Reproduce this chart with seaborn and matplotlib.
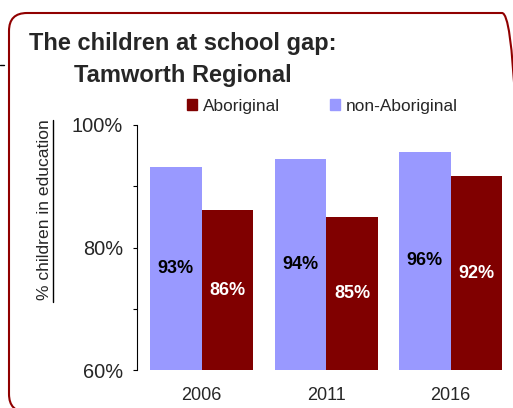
import matplotlib
matplotlib.use('Agg')
import matplotlib.pyplot as plt
import seaborn as sns
import pandas as pd
from matplotlib.patches import FancyBboxPatch, Patch
from matplotlib.lines import Line2D
from matplotlib.ticker import MultipleLocator, FuncFormatter

# ---- data ----
years = ['2006', '2011', '2016']
non_aboriginal = [93.2, 94.4, 95.6]
aboriginal = [86.1, 84.9, 91.6]
series = ['non-Aboriginal', 'Aboriginal']
colors = ['#9999FF', '#800000']
label_colors = ['black', 'white']
title_lines = ['The children at school gap:', 'Tamworth Regional']
y_label = '% children in education'
y_ticks = [60, 80, 100]
y_min, y_max = 60, 100

df = pd.DataFrame({
    'year': years * 2,
    'series': [series[0]] * len(years) + [series[1]] * len(years),
    'value': non_aboriginal + aboriginal,
})

sns.set_style('ticks')
plt.rcParams['font.family'] = ['Liberation Sans', 'DejaVu Sans']

W, H = 513, 408
fig = plt.figure(figsize=(W / 100, H / 100), dpi=100)
fig.patch.set_facecolor('white')
ax = fig.add_axes([137.3 / W, 38 / H, (W - 137.3) / W, 245 / H])
sns.barplot(data=df, x='year', y='value', hue='series', hue_order=series,
            palette=dict(zip(series, colors)), width=0.83, ax=ax,
            legend=False, saturation=1, linewidth=0)

ax.set_ylim(y_min, y_max)
ax.set_xlim(-0.517, 2.5)
ax.set_yticks(y_ticks)
ax.yaxis.set_minor_locator(MultipleLocator(10))
ax.yaxis.set_major_formatter(FuncFormatter(lambda v, p: f'{v:.0f}%'))
ax.tick_params(axis='y', which='both', length=3, width=0.8, direction='out',
               pad=7.2, labelsize=14.4, color='black')
ax.tick_params(axis='x', length=0, pad=12, labelsize=13)
ax.set_xlabel('')
ax.set_ylabel('')
for s in ['top', 'right', 'bottom']:
    ax.spines[s].set_visible(False)
ax.spines['left'].set_linewidth(0.8)
ax.spines['left'].set_color('black')

for cont, tc in zip(ax.containers, label_colors):
    for rect in cont:
        h = rect.get_height()
        ax.text(rect.get_x() + rect.get_width() / 2, (y_min + h) / 2, f'{h:.0f}%',
                ha='center', va='center', color=tc, fontsize=13, fontweight='bold')

# y label with underline
fig.text(45 / W, 1 - 210 / H, y_label, rotation=90, ha='center', va='center',
         fontsize=12.6)
fig.add_artist(Line2D([53 / W] * 2, [1 - 120 / H, 1 - 302 / H],
                      transform=fig.transFigure, color='black', lw=1.0))

# legend
handles = [Patch(color=colors[1], label=series[1]), Patch(color=colors[0], label=series[0])]
fig.legend(handles=handles, loc='center left', bbox_to_anchor=(186.7 / W, 1 - 106 / H),
           ncol=2, frameon=False, prop={'size': 12.4},
           handlelength=0.62, handleheight=0.62, handletextpad=0.31,
           columnspacing=2.9, borderpad=0, borderaxespad=0)

# title
fig.text(183 / W, 1 - 50 / H, title_lines[0], ha='center', va='baseline',
         fontsize=17, fontweight='bold')
fig.text(183 / W, 1 - 82 / H, title_lines[1], ha='center', va='baseline',
         fontsize=17, fontweight='bold')

# decorative frame
fig.add_artist(FancyBboxPatch((0.09, -0.04), 5.11, 3.99,
                              boxstyle='round,pad=0,rounding_size=0.18',
                              transform=fig.dpi_scale_trans, fill=False,
                              edgecolor='#900000', lw=1.5))
fig.add_artist(Line2D([0, 0.04], [(H - 65) / 100] * 2, transform=fig.dpi_scale_trans,
                      color='black', lw=1))

fig.savefig('out.png', dpi=100)
